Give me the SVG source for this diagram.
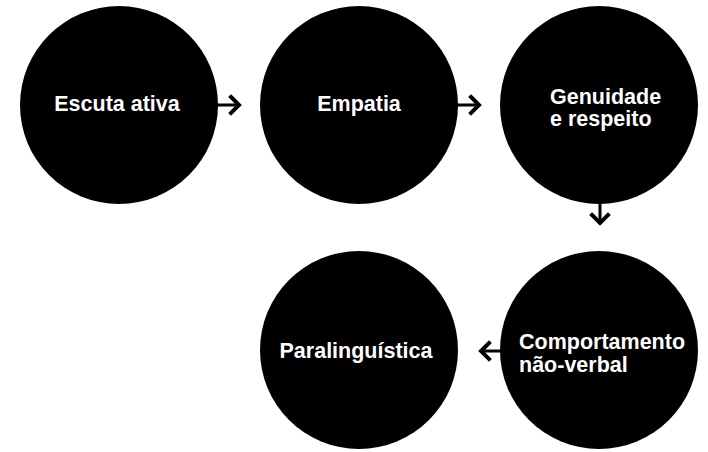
<svg xmlns="http://www.w3.org/2000/svg" width="708" height="452" viewBox="0 0 708 452">
<style>
.node{fill:#000}
.lbl{fill:#fff;font-family:"Liberation Sans",Arial,sans-serif;font-weight:bold;font-size:21.5px}
.c{text-anchor:middle}
.edge{stroke:#000;stroke-width:3;fill:none}
.head{stroke:#000;stroke-width:4;fill:none;stroke-linecap:square;stroke-linejoin:miter}
</style>
<rect width="708" height="452" fill="#fff"/>
<g id="node-escuta">
<circle class="node" cx="119" cy="105" r="99"/>
<text class="lbl c" x="117" y="111">Escuta ativa</text>
</g>
<g id="node-empatia">
<circle class="node" cx="359" cy="105" r="99"/>
<text class="lbl c" x="359" y="111">Empatia</text>
</g>
<g id="node-genuidade">
<circle class="node" cx="599" cy="105" r="99"/>
<text class="lbl" x="550" y="104">Genuidade</text>
<text class="lbl" x="550" y="126">e respeito</text>
</g>
<g id="node-comportamento">
<circle class="node" cx="599" cy="350" r="99"/>
<text class="lbl" x="519" y="349">Comportamento</text>
<text class="lbl" x="519" y="372">não-verbal</text>
</g>
<g id="node-paralinguistica">
<circle class="node" cx="359" cy="350" r="99"/>
<text class="lbl c" x="356" y="358">Paralinguística</text>
</g>
<g id="connectors">
<path class="edge" d="M217 105H239"/>
<path class="head" d="M231 97L239 105L231 113"/>
<path class="edge" d="M457 105H479"/>
<path class="head" d="M471 97L479 105L471 113"/>
<path class="edge" d="M600 203V223"/>
<path class="head" d="M592 215L600 223L608 215"/>
<path class="edge" d="M501 351H481"/>
<path class="head" d="M489 343L481 351L489 359"/>
</g>
</svg>
